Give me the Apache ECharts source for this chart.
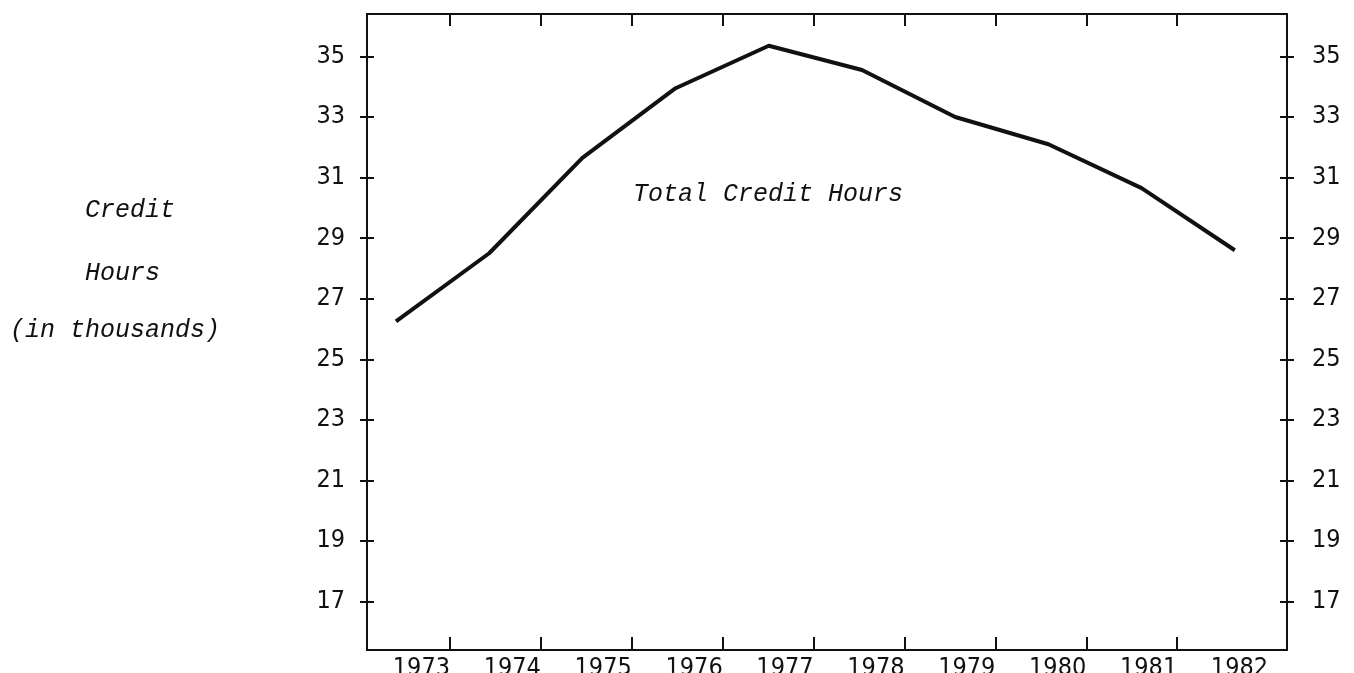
<!DOCTYPE html>
<html>
<head>
<meta charset="utf-8">
<title>Total Credit Hours</title>
<script src="https://cdn.jsdelivr.net/npm/echarts@6/dist/echarts.min.js"></script>
<style>
  html, body { margin: 0; padding: 0; background: #fff; }
  #chart { width: 1354px; height: 673px; }
</style>
</head>
<body>
<div id="chart"></div>
<script>
// data
var years = [1973, 1974, 1975, 1976, 1977, 1978, 1979, 1980, 1981, 1982];
var creditHours = [26.25, 28.5, 31.65, 33.95, 35.35, 34.55, 33.0, 32.1, 30.65, 28.6]; // in thousands
var yTicks = [17, 19, 21, 23, 25, 27, 29, 31, 33, 35];
var xTickSlots = [0, 1, 2, 3, 4, 5, 6, 7, 8];      // tick marks between the years
var xLabelSlots = [0, 1, 2, 3, 4, 5, 6, 7, 8, 9];  // one label per year

var ink = '#111';
var numFont = "'DejaVu Sans Condensed', 'DejaVu Sans', sans-serif";
var typeFont = "'Liberation Mono', 'DejaVu Sans Mono', monospace";

var chart = echarts.init(document.getElementById('chart'));

// a y axis; two of them per side give the "+" shaped ticks
function yAx(pos, inside, labels) {
  return {
    type: 'value',
    position: pos,
    min: 15.4,
    max: 36.4,
    axisLine: { show: true, onZero: false, lineStyle: { color: ink, width: 2 } },
    axisTick: { show: true, inside: inside, length: 7, customValues: yTicks, lineStyle: { color: ink, width: 2 } },
    axisLabel: {
      show: labels,
      customValues: yTicks,
      margin: pos === 'left' ? 22 : 25,
      color: ink,
      fontSize: 25,
      fontFamily: numFont
    },
    splitLine: { show: false }
  };
}

chart.setOption({
  backgroundColor: '#fff',
  animation: false,
  grid: { left: 367, right: 67, top: 14, bottom: 23, outerBoundsMode: 'none' },
  xAxis: [
    {
      // bottom axis: ticks and year labels
      type: 'value',
      position: 'bottom',
      min: -0.913,
      max: 9.208,
      axisLine: { show: true, onZero: false, lineStyle: { color: ink, width: 2 } },
      axisTick: { show: true, inside: true, length: 13, customValues: xTickSlots, lineStyle: { color: ink, width: 2 } },
      axisLabel: {
        customValues: xLabelSlots,
        formatter: function (v) { return String(years[Math.round(v)]); },
        align: 'right',
        margin: 6,
        color: ink,
        fontSize: 25,
        fontFamily: numFont
      },
      splitLine: { show: false }
    },
    {
      // top frame line with ticks
      type: 'value',
      position: 'top',
      min: -0.913,
      max: 9.208,
      axisLine: { show: true, onZero: false, lineStyle: { color: ink, width: 2 } },
      axisTick: { show: true, inside: true, length: 12, customValues: xTickSlots, lineStyle: { color: ink, width: 2 } },
      axisLabel: { show: false },
      splitLine: { show: false }
    },
    {
      // hidden axis the line is plotted against
      type: 'value',
      show: false,
      min: 1972.689,
      max: 1982.56
    }
  ],
  yAxis: [
    yAx('left', false, true),
    yAx('left', true, false),
    yAx('right', false, true),
    yAx('right', true, false)
  ],
  series: [{
    type: 'line',
    xAxisIndex: 2,
    yAxisIndex: 0,
    data: years.map(function (y, i) { return [y, creditHours[i]]; }),
    symbol: 'none',
    lineStyle: { color: ink, width: 4 }
  }],
  graphic: [
    { type: 'text', x: 85, y: 210, style: { text: 'Credit', font: 'italic 25px ' + typeFont, fill: ink, verticalAlign: 'middle' } },
    { type: 'text', x: 85, y: 273, style: { text: 'Hours', font: 'italic 25px ' + typeFont, fill: ink, verticalAlign: 'middle' } },
    { type: 'text', x: 10, y: 330, style: { text: '(in thousands)', font: 'italic 25px ' + typeFont, fill: ink, verticalAlign: 'middle' } },
    { type: 'text', x: 633, y: 194, style: { text: 'Total Credit Hours', font: 'italic 25px ' + typeFont, fill: ink, verticalAlign: 'middle' } }
  ]
});
</script>
</body>
</html>
